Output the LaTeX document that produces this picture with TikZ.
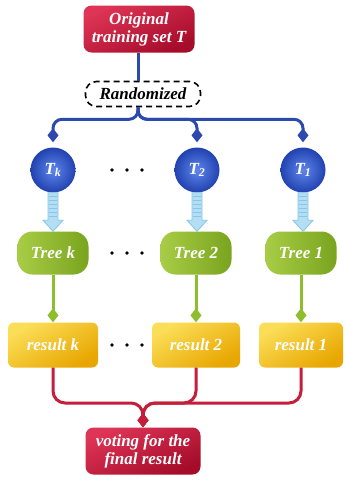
\documentclass[tikz,border=0pt]{standalone}
\usepackage{fontspec}
\setmainfont{Liberation Serif}
\usetikzlibrary{arrows.meta,calc}

\definecolor{redL}{HTML}{DE3456}
\definecolor{redD}{HTML}{A50C2A}
\definecolor{blueLine}{HTML}{2C4AAE}
\definecolor{blueL}{HTML}{5F86EC}
\definecolor{blueD}{HTML}{2142B0}
\definecolor{greenL}{HTML}{A8CC46}
\definecolor{greenD}{HTML}{7AA41E}
\definecolor{greenLine}{HTML}{8EBE2E}
\definecolor{yellowL}{HTML}{FBDE58}
\definecolor{yellowD}{HTML}{E8A600}
\definecolor{redLine}{HTML}{C41E3A}
\definecolor{iceBlue}{HTML}{B4DEF4}
\definecolor{iceDark}{HTML}{86C6E8}

\tikzset{
  lbl/.style={font=\fontsize{17}{20}\selectfont\bfseries\itshape, align=center, text=white},
  redbox/.style={lbl, rounded corners=8pt, top color=redL, bottom color=redD, shading angle=25},
  randbox/.style={lbl, text=black, draw=black, line width=1.6pt, dash pattern=on 6pt off 4pt,
                  rounded corners=11pt, fill=white, minimum width=115pt, minimum height=25pt},
  ballnode/.style={lbl, circle, minimum size=45pt, inner sep=0pt, inner color=blueL, outer color=blueD},
  treebox/.style={lbl, rounded corners=15pt, minimum width=71pt, minimum height=43pt,
                  left color=greenL, right color=greenD},
  resbox/.style={lbl, rounded corners=6pt, minimum width=88pt, minimum height=45pt,
                 top color=yellowL, bottom color=yellowD, shading angle=30},
  tipD/.style={-{Diamond[length=14pt,width=11pt]}},
  bline/.style={draw=blueLine, line width=3pt, rounded corners=9pt, tipD, shorten >=5pt},
  gline/.style={draw=greenLine, line width=3pt, tipD},
  rline/.style={draw=redLine, line width=3pt, rounded corners=12pt, tipD},
  blockarrow/.style={draw=iceDark, fill=iceBlue, line width=0.8pt, line join=miter},
  dotrow/.style={fill=black}
}

% striped block arrow from the bottom of one node to the top of another
\newcommand{\stripearrow}[2]{%
  \draw[blockarrow] let \p1=(#1.south), \p2=(#2.north) in
    (\x1-5pt,\y1) -- (\x1-5pt,\y2+11pt) -- (\x1-10pt,\y2+11pt) -- (\x1,\y2)
    -- (\x1+10pt,\y2+11pt) -- (\x1+5pt,\y2+11pt) -- (\x1+5pt,\y1) -- cycle;
  \draw[iceDark, line width=8.6pt, dash pattern=on 0.9pt off 3.1pt] let \p1=(#1.south), \p2=(#2.north) in
    (\x1,\y1-3pt) -- (\x1,\y2+12pt);
}
% three dots between columns
\newcommand{\colgap}[2]{%
  \foreach \dx in {-15,0,15} \fill[dotrow] ({#1+\dx},#2) circle (1.8pt);
}

\begin{document}
\begin{tikzpicture}[x=1pt,y=-1pt]
  \useasboundingbox (0,0) rectangle (345,482);
  \fill[white] (0,0) rectangle (345,482);

  % source and sampling
  \node[redbox, minimum width=111pt, minimum height=47pt] (orig) at (139,29) {Original\\[-2pt]training set T};
  \node[randbox] (rand) at (143,94) {Randomized};

  % bootstrap samples
  \node[ballnode] (tk) at (53,170) {T\textsubscript{k}};
  \node[ballnode] (t2) at (197,170) {T\textsubscript{2}};
  \node[ballnode] (t1) at (303,170) {T\textsubscript{1}};

  % trees
  \node[treebox] (trk) at (53,253) {Tree k};
  \node[treebox] (tr2) at (196,253) {Tree 2};
  \node[treebox] (tr1) at (301,253) {Tree 1};

  % individual results
  \node[resbox, minimum width=90pt] (rk) at (53,345) {result k};
  \node[resbox] (r2) at (196,345) {result 2};
  \node[resbox, minimum width=84pt] (r1) at (301,345) {result 1};

  % aggregation
  \node[redbox, minimum width=115pt, minimum height=47pt] (fin) at (143,451) {voting for the\\[-2pt]final result};
  \coordinate (jn) at (143,403);

  % connectors
  \draw[draw=blueLine, line width=3pt] (orig.south -| 138,0) -- (138,0 |- rand.north);
  \foreach \t in {tk,t2,t1}
    \draw[bline] (138,0 |- rand.south) -- ++(0,12) -| (\t.north);

  \stripearrow{tk}{trk}
  \stripearrow{t2}{tr2}
  \stripearrow{t1}{tr1}

  \draw[gline] (trk.south) -- (rk.north);
  \draw[gline] (tr2.south) -- (r2.north);
  \draw[gline] (tr1.south) -- (r1.north);

  \foreach \r in {rk,r2,r1}
    \draw[rline] (\r.south) |- (jn) -- (fin.north);

  % ellipses between columns
  \colgap{127}{170}
  \colgap{127}{253}
  \colgap{127}{345}
\end{tikzpicture}
\end{document}
